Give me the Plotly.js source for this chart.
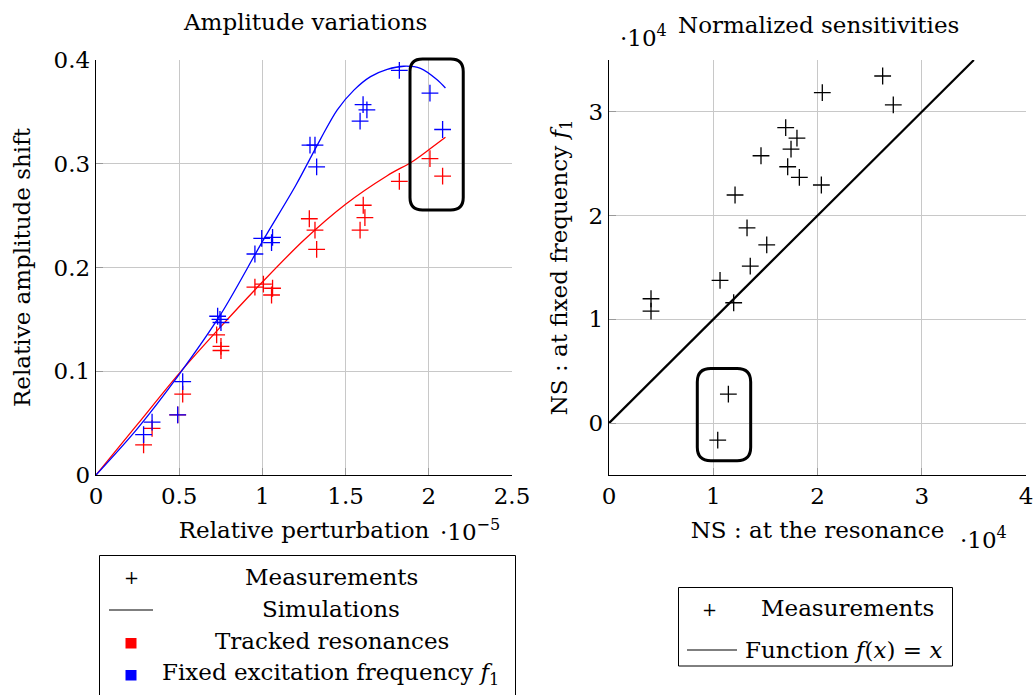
<!DOCTYPE html>
<html>
<head>
<meta charset="utf-8">
<script src="https://cdn.plot.ly/plotly-3.0.1.min.js"></script>
<style>html,body{margin:0;padding:0;background:#fff;}#chart{width:1034px;height:695px;}</style>
</head>
<body>
<div id="chart"></div>
<script>
// ---------- DATA ----------
// Left panel: relative perturbation (x 1e-5) vs relative amplitude shift
const trackedX = [0.286,0.337,0.491,0.521,0.725,0.751,0.751,0.955,1.006,1.061,1.055,1.282,1.316,1.326,1.587,1.606,1.616,1.823,2.007,2.083];
const trackedY = [0.029,0.045,0.058,0.078,0.135,0.124,0.120,0.181,0.184,0.180,0.1735,0.247,0.236,0.2175,0.236,0.260,0.248,0.283,0.305,0.288];
const fixedX = [0.286,0.337,0.491,0.521,0.731,0.745,0.751,0.955,0.996,1.061,1.055,1.286,1.316,1.326,1.587,1.605,1.628,1.823,2.007,2.083];
const fixedY = [0.039,0.051,0.058,0.090,0.153,0.150,0.147,0.213,0.228,0.229,0.224,0.318,0.318,0.297,0.341,0.357,0.352,0.390,0.368,0.333];
// Simulation curves
const simTrackedX = [0,0.25,0.5,0.75,1.0,1.25,1.5,1.75,1.9,2.0,2.1];
const simTrackedY = [0,0.049,0.098,0.143,0.186,0.2265,0.261,0.2885,0.302,0.3135,0.3255];
const simFixedX = [0,0.25,0.5,0.75,1.0,1.2,1.35,1.45,1.55,1.65,1.75,1.85,1.95,2.05,2.1];
const simFixedY = [0,0.045,0.097,0.155,0.225,0.279,0.324,0.352,0.371,0.384,0.391,0.394,0.392,0.381,0.373];
// Right panel: normalized sensitivities (x 1e4)
const nsResX = [0.403,0.403,1.043,1.145,1.065,1.196,1.209,1.324,1.355,1.513,1.458,1.695,1.746,1.803,1.714,1.826,2.046,2.037,2.625,2.727];
const nsFixY = [1.199,1.080,-0.163,0.279,1.375,1.160,2.199,1.881,1.513,1.718,2.577,2.849,2.641,2.747,2.471,2.368,3.186,2.295,3.346,3.067];
const identityX = [0,3.5];
// Tick labels
const leftXTicks = [0,0.5,1,1.5,2,2.5];
const leftXText = ['0','0.5','1','1.5','2','2.5'];
const leftYTicks = [0,0.1,0.2,0.3,0.4];
const leftYText = ['0','0.1','0.2','0.3','0.4'];
const rightXTicks = [0,1,2,3,4];
const rightXText = ['0','1','2','3','4'];
const rightYTicks = [0,1,2,3];
const rightYText = ['0','1','2','3'];

// ---------- STYLE ----------
const FONT = 'DejaVu Serif';
const FS = 23;
const RED = '#ff0000', BLUE = '#0000ff';
const W = 1034, H = 695;
const px = v => v / W;
const py = v => 1 - v / H;

const cross = (c) => ({symbol:'cross-thin', size:12, color:c, line:{width:1.3, color:c}});

const traces = [
  {x:simTrackedX, y:simTrackedY, mode:'lines', line:{color:RED, width:1.3, shape:'spline', smoothing:0.9}, xaxis:'x', yaxis:'y', name:'Simulations (tracked)', showlegend:false},
  {x:simFixedX, y:simFixedY, mode:'lines', line:{color:BLUE, width:1.3, shape:'spline', smoothing:0.9}, xaxis:'x', yaxis:'y', name:'Simulations (fixed f1)', showlegend:false},
  {x:trackedX, y:trackedY, mode:'markers', marker:cross(RED), xaxis:'x', yaxis:'y', name:'Tracked resonances', showlegend:false},
  {x:fixedX, y:fixedY, mode:'markers', marker:cross(BLUE), xaxis:'x', yaxis:'y', name:'Fixed excitation frequency f1', showlegend:false},
  {x:identityX, y:identityX, mode:'lines', line:{color:'#000', width:2.2}, xaxis:'x2', yaxis:'y2', name:'Function f(x)=x', showlegend:false},
  {x:nsResX, y:nsFixY, mode:'markers', marker:cross('#000'), xaxis:'x2', yaxis:'y2', name:'Measurements', showlegend:false}
];

const axisBase = {
  showgrid:true, gridcolor:'#c8c8c8', gridwidth:1,
  showline:true, linecolor:'#000', linewidth:1.3,
  ticks:'inside', ticklen:7, tickcolor:'#999', tickwidth:1,
  zeroline:false, tickfont:{family:FONT, size:FS, color:'#000'},
  fixedrange:true
};

// rounded rectangle path
function roundRect(x0,x1,y0,y1,rx,ry){
  return `M ${x0+rx},${y1} L ${x1-rx},${y1} Q ${x1},${y1} ${x1},${y1-ry} L ${x1},${y0+ry} Q ${x1},${y0} ${x1-rx},${y0} L ${x0+rx},${y0} Q ${x0},${y0} ${x0},${y0+ry} L ${x0},${y1-ry} Q ${x0},${y1} ${x0+rx},${y1} Z`;
}
// left highlight box (in axis-domain fractions, derived from data values)
const LX = 2.5, LY = 0.4;
const leftBox = roundRect(1.887/LX, 2.207/LX, 0.2554/LY, 0.401/LY, 0.03, 0.03);
const rightBox = roundRect(0.847, 1.359, -0.3625, 0.526, 0.13, 0.13);

const shapes = [
  {type:'path', xref:'x domain', yref:'y domain', path:leftBox, line:{color:'#000', width:3}},
  {type:'path', xref:'x2', yref:'y2', path:rightBox, line:{color:'#000', width:3}},
  // legend 1 frame + symbols
  {type:'rect', xref:'paper', yref:'paper', x0:px(99.5), x1:px(515.5), y0:py(700), y1:py(555.5), line:{color:'#000', width:1}},
  {type:'line', xref:'paper', yref:'paper', x0:px(109), x1:px(153), y0:py(610), y1:py(610), line:{color:'#000', width:1.2}},
  {type:'rect', xref:'paper', yref:'paper', x0:px(125.5), x1:px(136.5), y0:py(648.5), y1:py(638), fillcolor:RED, line:{width:0}},
  {type:'rect', xref:'paper', yref:'paper', x0:px(125.5), x1:px(136.5), y0:py(680.5), y1:py(670), fillcolor:BLUE, line:{width:0}},
  // legend 2 frame + line
  {type:'rect', xref:'paper', yref:'paper', x0:px(678.5), x1:px(952.5), y0:py(666), y1:py(587.5), line:{color:'#000', width:1}},
  {type:'line', xref:'paper', yref:'paper', x0:px(687), x1:px(737), y0:py(650), y1:py(650), line:{color:'#000', width:1.2}}
];

const ann = (text, x, y, extra) => Object.assign({text, xref:'paper', yref:'paper', x:px(x), y:py(y), xanchor:'center', yanchor:'middle', showarrow:false, font:{family:FONT, size:FS, color:'#000'}}, extra||{});

const annotations = [
  ann('Amplitude variations', 305, 22),
  ann('Normalized sensitivities', 818, 25),
  ann('·10<sup>−5</sup>', 470, 530),
  ann('·10<sup>4</sup>', 983, 538),
  ann('·10<sup>4</sup>', 643, 36),
  // legend 1
  ann('+', 131, 577, {font:{family:FONT, size:18, color:'#000'}}),
  ann('Measurements', 331, 577),
  ann('Simulations', 331, 609),
  ann('Tracked resonances', 332, 641),
  ann('Fixed excitation frequency <i>f</i><sub>1</sub>', 330, 674),
  // legend 2
  ann('+', 709, 609, {font:{family:FONT, size:18, color:'#000'}}),
  ann('Measurements', 847, 608),
  ann('Function <i>f</i>(<i>x</i>) = <i>x</i>', 843, 650)
];

const layout = {
  width:W, height:H,
  margin:{l:0, r:0, t:0, b:0},
  paper_bgcolor:'#fff', plot_bgcolor:'#fff',
  showlegend:false,
  font:{family:FONT, size:FS, color:'#000'},
  xaxis: Object.assign({}, axisBase, {domain:[px(96), px(512)], range:[0,2.5], tickvals:leftXTicks, ticktext:leftXText, anchor:'y',
    title:{text:'Relative perturbation', font:{family:FONT, size:FS}, standoff:14}}),
  yaxis: Object.assign({}, axisBase, {domain:[py(475), py(60)], range:[0,0.4], tickvals:leftYTicks, ticktext:leftYText, anchor:'x',
    title:{text:'Relative amplitude shift', font:{family:FONT, size:FS}, standoff:16}}),
  xaxis2: Object.assign({}, axisBase, {domain:[px(609), px(1026)], range:[0,4], tickvals:rightXTicks, ticktext:rightXText, anchor:'y2',
    title:{text:'NS : at the resonance', font:{family:FONT, size:FS}, standoff:14}}),
  yaxis2: Object.assign({}, axisBase, {domain:[py(475), py(60)], range:[-0.5,3.5], tickvals:rightYTicks, ticktext:rightYText, anchor:'x2',
    title:{text:'NS : at fixed frequency <i>f</i><sub>1</sub>', font:{family:FONT, size:FS}, standoff:14}}),
  shapes, annotations
};

Plotly.newPlot('chart', traces, layout, {displayModeBar:false, staticPlot:true});
</script>
</body>
</html>
